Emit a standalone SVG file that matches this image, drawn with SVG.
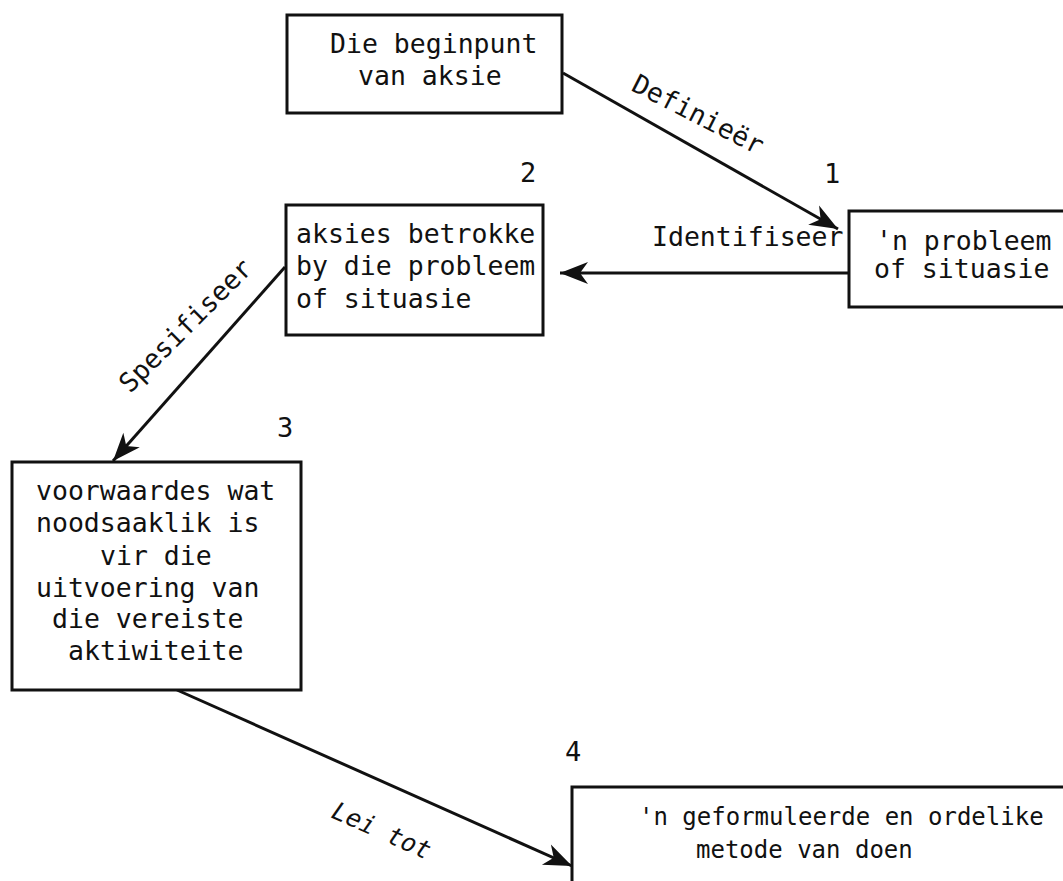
<svg xmlns="http://www.w3.org/2000/svg" width="1063" height="881" viewBox="0 0 1063 881">
  <style>
    .box { fill: #fff; stroke: #111; stroke-width: 3; }
    .t { font-family: "DejaVu Sans Mono", "Liberation Mono", monospace; font-size: 26.5px; fill: #111; }
    .small { font-size: 24px; }
    .num { font-family: "DejaVu Sans Mono", "Liberation Mono", monospace; font-size: 27px; fill: #111; }
    .it { font-style: italic; font-size: 25px; }
    .edge { stroke: #111; stroke-width: 3; fill: none; marker-end: url(#arrow); }
  </style>
  <defs>
    <marker id="arrow" markerUnits="userSpaceOnUse" markerWidth="40" markerHeight="30" viewBox="-30 -15 32 30" refX="0" refY="0" orient="auto">
      <path d="M0,0 L-28,-11 L-20,0 L-28,11 Z" fill="#111"/>
    </marker>
  </defs>
  <rect width="1063" height="881" fill="#fff"/>

  <!-- connectors -->
  <g id="connectors">
    <line class="edge" x1="563" y1="73" x2="838" y2="229"/>
    <line class="edge" x1="849" y1="273" x2="560" y2="273"/>
    <line class="edge" x1="285" y1="267" x2="113" y2="461"/>
    <line class="edge" x1="177" y1="690" x2="572" y2="866"/>
    <text class="t" transform="translate(630,90) rotate(27)">Definieër</text>
    <text class="t" x="652" y="246">Identifiseer</text>
    <text class="t" transform="translate(130,394) rotate(-45)">Spesifiseer</text>
    <text class="t it" transform="translate(330,817) rotate(24)">Lei tot</text>
  </g>

  <!-- starting point -->
  <g id="start">
    <rect class="box" x="287" y="15" width="275" height="98"/>
    <text class="t" x="330" y="53">Die beginpunt</text>
    <text class="t" x="358" y="85">van aksie</text>
  </g>

  <!-- step 1 -->
  <g id="step1">
    <text class="num" x="824" y="183">1</text>
    <rect class="box" x="849" y="211" width="240" height="96"/>
    <text class="t" x="876" y="250">'n probleem</text>
    <text class="t" x="874" y="278">of situasie</text>
  </g>

  <!-- step 2 -->
  <g id="step2">
    <text class="num" x="520" y="182">2</text>
    <rect class="box" x="286" y="205" width="257" height="130"/>
    <text class="t" x="296" y="243">aksies betrokke</text>
    <text class="t" x="296" y="275">by die probleem</text>
    <text class="t" x="296" y="308">of situasie</text>
  </g>

  <!-- step 3 -->
  <g id="step3">
    <text class="num" x="277" y="437">3</text>
    <rect class="box" x="12" y="462" width="289" height="228"/>
    <text class="t" x="36" y="500">voorwaardes wat</text>
    <text class="t" x="36" y="532">noodsaaklik is</text>
    <text class="t" x="100" y="565">vir die</text>
    <text class="t" x="36" y="597">uitvoering van</text>
    <text class="t" x="52" y="628">die vereiste</text>
    <text class="t" x="68" y="660">aktiwiteite</text>
  </g>

  <!-- step 4 -->
  <g id="step4">
    <text class="num" x="565" y="761">4</text>
    <rect class="box" x="572" y="787" width="520" height="130"/>
    <text class="t small" x="639" y="825">'n geformuleerde en ordelike</text>
    <text class="t small" x="696" y="858">metode van doen</text>
  </g>
</svg>
